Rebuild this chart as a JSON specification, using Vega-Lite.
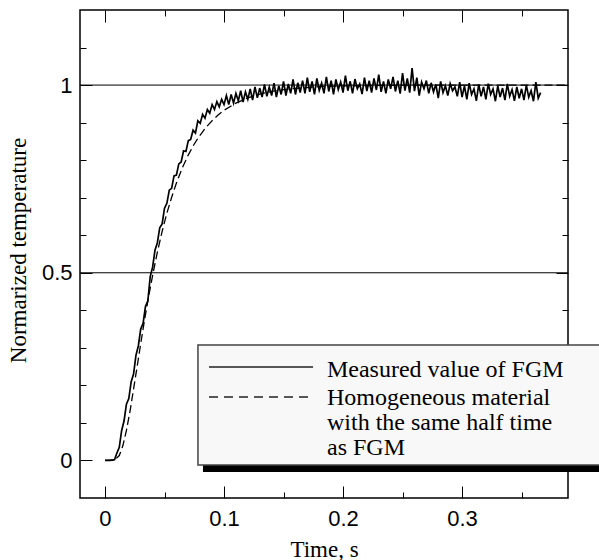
{
  "$schema": "https://vega.github.io/schema/vega-lite/v6.json",
  "width": 488,
  "height": 488,
  "autosize": "none",
  "padding": {"left": 80, "top": 10, "right": 31, "bottom": 62},
  "background": "white",
  "config": {"view": {"stroke": "black", "strokeWidth": 1.5}},
  "datasets": {
    "measured": [
      {"t":0,"v":0},{"t":0.002,"v":0},{"t":0.004,"v":0},{"t":0.006,"v":0.001},{"t":0.008,"v":0.002},
      {"t":0.01,"v":0.02},{"t":0.012,"v":0.035},{"t":0.014,"v":0.08},{"t":0.016,"v":0.105},{"t":0.018,"v":0.15},
      {"t":0.02,"v":0.165},{"t":0.022,"v":0.21},{"t":0.024,"v":0.23},{"t":0.026,"v":0.28},{"t":0.028,"v":0.305},
      {"t":0.03,"v":0.35},{"t":0.032,"v":0.365},{"t":0.034,"v":0.41},{"t":0.036,"v":0.425},{"t":0.038,"v":0.49},
      {"t":0.04,"v":0.515},{"t":0.042,"v":0.56},{"t":0.044,"v":0.58},{"t":0.046,"v":0.62},{"t":0.048,"v":0.63},
      {"t":0.05,"v":0.672},{"t":0.052,"v":0.685},{"t":0.054,"v":0.72},{"t":0.056,"v":0.725},{"t":0.058,"v":0.758},
      {"t":0.06,"v":0.76},{"t":0.062,"v":0.79},{"t":0.064,"v":0.795},{"t":0.066,"v":0.825},{"t":0.068,"v":0.823},
      {"t":0.07,"v":0.852},{"t":0.072,"v":0.855},{"t":0.074,"v":0.88},{"t":0.076,"v":0.872},{"t":0.078,"v":0.905},
      {"t":0.08,"v":0.898},{"t":0.082,"v":0.922},{"t":0.084,"v":0.912},{"t":0.086,"v":0.935},{"t":0.088,"v":0.925},
      {"t":0.09,"v":0.948},{"t":0.092,"v":0.935},{"t":0.094,"v":0.956},{"t":0.096,"v":0.942},{"t":0.098,"v":0.962},
      {"t":0.1,"v":0.948},{"t":0.102,"v":0.972},{"t":0.104,"v":0.948},{"t":0.106,"v":0.975},{"t":0.108,"v":0.952},
      {"t":0.11,"v":0.978},{"t":0.112,"v":0.958},{"t":0.114,"v":0.985},{"t":0.116,"v":0.955},{"t":0.118,"v":0.982},
      {"t":0.12,"v":0.962},{"t":0.122,"v":0.99},{"t":0.124,"v":0.96},{"t":0.126,"v":0.995},{"t":0.128,"v":0.966},
      {"t":0.13,"v":0.992},{"t":0.132,"v":0.968},{"t":0.134,"v":1.002},{"t":0.136,"v":0.97},{"t":0.138,"v":0.995},
      {"t":0.14,"v":0.972},{"t":0.142,"v":1.005},{"t":0.144,"v":0.968},{"t":0.146,"v":0.998},{"t":0.148,"v":0.975},
      {"t":0.15,"v":1.01},{"t":0.152,"v":0.972},{"t":0.154,"v":1.003},{"t":0.156,"v":0.978},{"t":0.158,"v":1.015},
      {"t":0.16,"v":0.975},{"t":0.162,"v":1.006},{"t":0.164,"v":0.98},{"t":0.166,"v":1.012},{"t":0.168,"v":0.978},
      {"t":0.17,"v":1.02},{"t":0.172,"v":0.982},{"t":0.174,"v":1.01},{"t":0.176,"v":0.975},{"t":0.178,"v":1.018},
      {"t":0.18,"v":0.986},{"t":0.182,"v":1.005},{"t":0.184,"v":0.978},{"t":0.186,"v":1.022},{"t":0.188,"v":0.983},
      {"t":0.19,"v":1.012},{"t":0.192,"v":0.975},{"t":0.194,"v":1.015},{"t":0.196,"v":0.988},{"t":0.198,"v":1.008},
      {"t":0.2,"v":0.98},{"t":0.202,"v":1.025},{"t":0.204,"v":0.985},{"t":0.206,"v":1.01},{"t":0.208,"v":0.978},
      {"t":0.21,"v":1.016},{"t":0.212,"v":0.99},{"t":0.214,"v":1.003},{"t":0.216,"v":0.976},{"t":0.218,"v":1.02},
      {"t":0.22,"v":0.984},{"t":0.222,"v":1.012},{"t":0.224,"v":0.98},{"t":0.226,"v":1.018},{"t":0.228,"v":0.987},
      {"t":0.23,"v":1.028},{"t":0.232,"v":0.982},{"t":0.234,"v":1.01},{"t":0.236,"v":0.978},{"t":0.238,"v":1.015},
      {"t":0.24,"v":0.99},{"t":0.242,"v":1.022},{"t":0.244,"v":0.983},{"t":0.246,"v":1.012},{"t":0.248,"v":0.977},
      {"t":0.25,"v":1.032},{"t":0.252,"v":0.985},{"t":0.254,"v":1.018},{"t":0.256,"v":0.98},{"t":0.258,"v":1.045},
      {"t":0.26,"v":0.984},{"t":0.262,"v":1.02},{"t":0.264,"v":0.972},{"t":0.266,"v":1.008},{"t":0.268,"v":0.99},
      {"t":0.27,"v":1.012},{"t":0.272,"v":0.978},{"t":0.274,"v":1.006},{"t":0.276,"v":0.982},{"t":0.278,"v":1.002},
      {"t":0.28,"v":0.965},{"t":0.282,"v":1.01},{"t":0.284,"v":0.98},{"t":0.286,"v":0.998},{"t":0.288,"v":0.972},
      {"t":0.29,"v":1.004},{"t":0.292,"v":0.985},{"t":0.294,"v":0.995},{"t":0.296,"v":0.97},{"t":0.298,"v":1.008},
      {"t":0.3,"v":0.968},{"t":0.302,"v":0.998},{"t":0.304,"v":0.962},{"t":0.306,"v":1.005},{"t":0.308,"v":0.975},
      {"t":0.31,"v":0.99},{"t":0.312,"v":0.958},{"t":0.314,"v":1.002},{"t":0.316,"v":0.97},{"t":0.318,"v":0.995},
      {"t":0.32,"v":0.962},{"t":0.322,"v":1.004},{"t":0.324,"v":0.975},{"t":0.326,"v":0.99},{"t":0.328,"v":0.957},
      {"t":0.33,"v":0.998},{"t":0.332,"v":0.968},{"t":0.334,"v":0.992},{"t":0.336,"v":0.96},{"t":0.338,"v":1.003},
      {"t":0.34,"v":0.97},{"t":0.342,"v":0.988},{"t":0.344,"v":0.958},{"t":0.346,"v":0.995},{"t":0.348,"v":0.965},
      {"t":0.35,"v":0.99},{"t":0.352,"v":0.96},{"t":0.354,"v":1.0},{"t":0.356,"v":0.968},{"t":0.358,"v":0.985},
      {"t":0.36,"v":0.957},{"t":0.362,"v":1.008},{"t":0.364,"v":0.965},{"t":0.366,"v":0.98}
    ],
    "model": [
      {"t":0,"v":0},{"t":0.008,"v":0.001},{"t":0.012,"v":0.013},{"t":0.015,"v":0.039},{"t":0.018,"v":0.08},
      {"t":0.021,"v":0.131},{"t":0.024,"v":0.19},{"t":0.027,"v":0.25},{"t":0.03,"v":0.311},{"t":0.033,"v":0.37},
      {"t":0.036,"v":0.425},{"t":0.04,"v":0.493},{"t":0.044,"v":0.555},{"t":0.048,"v":0.61},{"t":0.052,"v":0.659},
      {"t":0.056,"v":0.701},{"t":0.06,"v":0.739},{"t":0.065,"v":0.78},{"t":0.07,"v":0.814},{"t":0.075,"v":0.843},
      {"t":0.08,"v":0.867},{"t":0.085,"v":0.888},{"t":0.09,"v":0.905},{"t":0.095,"v":0.92},{"t":0.1,"v":0.933},
      {"t":0.11,"v":0.952},{"t":0.12,"v":0.966},{"t":0.13,"v":0.976},{"t":0.14,"v":0.983},{"t":0.15,"v":0.988},
      {"t":0.16,"v":0.991},{"t":0.18,"v":0.996},{"t":0.2,"v":0.998},{"t":0.23,"v":0.999},{"t":0.26,"v":1.0},
      {"t":0.3,"v":1.0},{"t":0.34,"v":1.0},{"t":0.389,"v":1.0}
    ]
  },
  "layer": [
    {
      "data": {"values": [{"level": 0.5}, {"level": 1}]},
      "mark": {"type": "rule", "color": "black", "strokeWidth": 1},
      "encoding": {
        "y": {"field": "level", "type": "quantitative", "scale": {"domain": [-0.1, 1.2], "nice": false, "zero": false}, "axis": null}
      }
    },
    {
      "data": {"name": "model"},
      "mark": {"type": "line", "color": "black", "strokeWidth": 1.3, "strokeDash": [8, 4]},
      "encoding": {
        "x": {"field": "t", "type": "quantitative", "scale": {"domain": [-0.021, 0.389], "nice": false, "zero": false},
          "axis": {"orient": "top", "offset": -12, "domain": false, "values": [0, 0.05, 0.1, 0.15, 0.2, 0.25, 0.3, 0.35], "labels": false, "title": null, "grid": false,
            "tickColor": "black", "tickWidth": 1, "tickSize": 12,
            "tickDash": {"condition": {"test": "round(datum.value*100) % 10 == 0", "value": [12, 0]}, "value": [0, 6, 6, 30]}}},
        "y": {"field": "v", "type": "quantitative", "scale": {"domain": [-0.1, 1.2], "nice": false, "zero": false},
          "axis": {"orient": "right", "offset": -12, "domain": false, "values": [0, 0.1, 0.2, 0.3, 0.4, 0.5, 0.6, 0.7, 0.8, 0.9, 1, 1.1], "labels": false, "title": null, "grid": false,
            "tickColor": "black", "tickWidth": 1, "tickSize": 12,
            "tickDash": {"condition": {"test": "datum.value == 0 || datum.value == 0.5 || datum.value == 1", "value": [12, 0]}, "value": [0, 6, 6, 30]}}}
      }
    },
    {
      "data": {"name": "measured"},
      "mark": {"type": "line", "color": "black", "strokeWidth": 1.7},
      "encoding": {
        "x": {"field": "t", "type": "quantitative",
          "axis": {"orient": "bottom", "offset": -12, "domain": false, "values": [0, 0.05, 0.1, 0.15, 0.2, 0.25, 0.3, 0.35], "grid": false, "format": "~g",
            "labelExpr": "round(datum.value*100) % 10 == 0 ? datum.label : ''",
            "labelFont": "Liberation Sans", "labelFontSize": 22, "labelColor": "black", "labelPadding": 10,
            "tickColor": "black", "tickWidth": 1, "tickSize": 12,
            "tickDash": {"condition": {"test": "round(datum.value*100) % 10 == 0", "value": [12, 0]}, "value": [0, 6, 6, 30]},
            "title": "Time, s", "titleFont": "Liberation Serif", "titleFontSize": 23, "titleFontWeight": "normal", "titleColor": "black",
            "titleY": 70, "titleBaseline": "alphabetic"}},
        "y": {"field": "v", "type": "quantitative",
          "axis": {"orient": "left", "offset": -12, "domain": false, "values": [0, 0.1, 0.2, 0.3, 0.4, 0.5, 0.6, 0.7, 0.8, 0.9, 1, 1.1], "grid": false, "format": "~g",
            "labelExpr": "(datum.value == 0 || datum.value == 0.5 || datum.value == 1) ? datum.label : ''",
            "labelFont": "Liberation Sans", "labelFontSize": 22, "labelColor": "black", "labelPadding": 8,
            "tickColor": "black", "tickWidth": 1, "tickSize": 12,
            "tickDash": {"condition": {"test": "datum.value == 0 || datum.value == 0.5 || datum.value == 1", "value": [12, 0]}, "value": [0, 6, 6, 30]},
            "title": "Normarized temperature", "titleFont": "Liberation Serif", "titleFontSize": 23, "titleFontWeight": "normal", "titleColor": "black",
            "titleX": -67, "titleY": 240, "titleBaseline": "alphabetic", "titleAngle": -90, "titleAlign": "center"}}
      }
    },
    {
      "data": {"values": [{}]},
      "mark": {"type": "rect", "color": "black"},
      "encoding": {
        "x": {"datum": 0.0823, "axis": null}, "x2": {"datum": 0.42},
        "y": {"datum": 0.3076, "axis": null}, "y2": {"datum": -0.0307}
      }
    },
    {
      "data": {"values": [{}]},
      "mark": {"type": "rect", "fill": "#f8f8f8", "stroke": "#444444", "strokeWidth": 1.5},
      "encoding": {
        "x": {"datum": 0.0781, "axis": null}, "x2": {"datum": 0.42},
        "y": {"datum": 0.3076, "axis": null}, "y2": {"datum": -0.0121}
      }
    },
    {
      "data": {"values": [{}]},
      "mark": {"type": "rule", "color": "#222222", "strokeWidth": 1.5},
      "encoding": {
        "x": {"datum": 0.0874, "axis": null}, "x2": {"datum": 0.1748},
        "y": {"datum": 0.249, "axis": null}
      }
    },
    {
      "data": {"values": [{}]},
      "mark": {"type": "rule", "color": "#222222", "strokeWidth": 1.5, "strokeDash": [9, 6]},
      "encoding": {
        "x": {"datum": 0.0874, "axis": null}, "x2": {"datum": 0.1748},
        "y": {"datum": 0.169, "axis": null}
      }
    },
    {
      "data": {"values": [{}]},
      "mark": {"type": "text", "text": "Measured value of FGM", "font": "Liberation Serif", "fontSize": 24, "color": "black", "align": "left", "baseline": "alphabetic"},
      "encoding": {
        "x": {"datum": 0.1865, "axis": null},
        "y": {"datum": 0.2223, "axis": null}
      }
    },
    {
      "data": {"values": [{}]},
      "mark": {"type": "text", "text": ["Homogeneous material", "with the same half time", "as FGM"], "lineHeight": 25, "font": "Liberation Serif", "fontSize": 24, "color": "black", "align": "left", "baseline": "alphabetic"},
      "encoding": {
        "x": {"datum": 0.1865, "axis": null},
        "y": {"datum": 0.1477, "axis": null}
      }
    }
  ],
  "resolve": {"axis": {"x": "independent", "y": "independent"}}
}
